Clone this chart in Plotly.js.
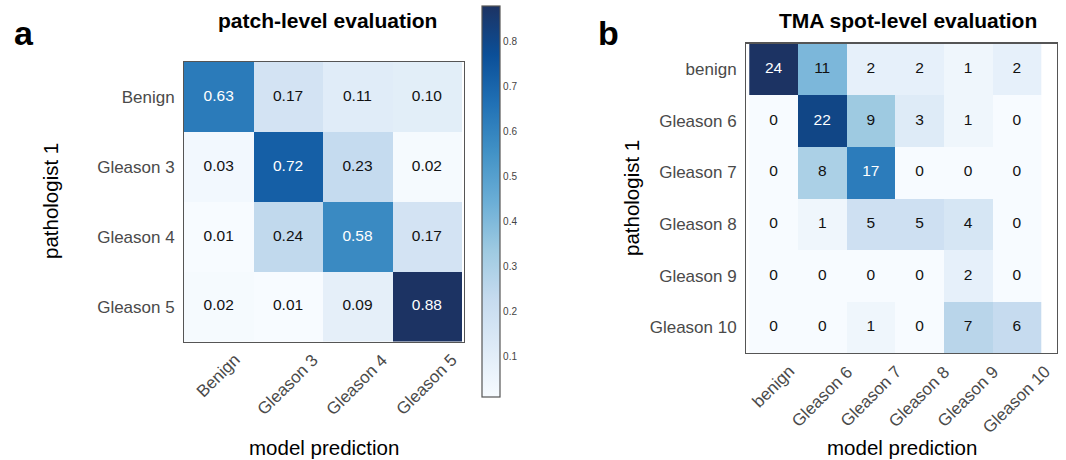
<!DOCTYPE html>
<html><head><meta charset="utf-8">
<script src="https://cdn.plot.ly/plotly-3.0.1.min.js"></script>
<style>html,body{margin:0;padding:0;background:#fff}#chart{width:1066px;height:460px}</style>
</head><body><div id="chart"></div>
<script>
var patchLabels = ['Benign', 'Gleason 3', 'Gleason 4', 'Gleason 5'];
var patchValues = [
  [0.63, 0.17, 0.11, 0.10],
  [0.03, 0.72, 0.23, 0.02],
  [0.01, 0.24, 0.58, 0.17],
  [0.02, 0.01, 0.09, 0.88]
];
var tmaLabels = ['benign', 'Gleason 6', 'Gleason 7', 'Gleason 8', 'Gleason 9', 'Gleason 10'];
var tmaValues = [
  [24, 11, 2, 2, 1, 2],
  [0, 22, 9, 3, 1, 0],
  [0, 8, 17, 0, 0, 0],
  [0, 1, 5, 5, 4, 0],
  [0, 0, 0, 0, 2, 0],
  [0, 0, 1, 0, 7, 6]
];
var colorbarTicks = [0.1, 0.2, 0.3, 0.4, 0.5, 0.6, 0.7, 0.8];

var blues = [
  [0, '#f7fbff'], [0.125, '#deebf7'], [0.25, '#c6dbef'], [0.375, '#9ecae1'],
  [0.5, '#6baed6'], [0.625, '#4292c6'], [0.75, '#2171b5'], [0.875, '#0b4f98'], [1, '#1c3363']
];
var FONT = 'Liberation Sans, Arial, Helvetica, sans-serif';
var TICKCOLOR = '#4a4a4a';

function textTrace(labels, values, fmt, xa, ya) {
  var all = [].concat.apply([], values);
  var mx = Math.max.apply(null, all);
  var xs = [], ys = [], ts = [], cs = [];
  values.forEach(function (row, i) {
    row.forEach(function (v, j) {
      xs.push(labels[j]); ys.push(labels[i]); ts.push(fmt(v));
      cs.push(v > mx / 2 ? '#ffffff' : '#111111');
    });
  });
  return {type: 'scatter', mode: 'text', x: xs, y: ys, text: ts, xaxis: xa, yaxis: ya,
    textfont: {family: FONT, size: 15.5, color: cs}, hoverinfo: 'skip', showlegend: false};
}

var allPatch = [].concat.apply([], patchValues);
var traces = [
  {type: 'heatmap', x: patchLabels, y: patchLabels, z: patchValues, xaxis: 'x', yaxis: 'y',
   colorscale: blues, zmin: Math.min.apply(null, allPatch), zmax: Math.max.apply(null, allPatch),
   colorbar: {x: 482/1066, xanchor: 'left', y: 1 - 201.5/460, yanchor: 'middle',
     len: 391, lenmode: 'pixels', thickness: 18, thicknessmode: 'pixels',
     outlinecolor: '#555', outlinewidth: 1.2, tickvals: colorbarTicks, ticks: '',
     tickfont: {family: FONT, size: 10, color: '#444'}, xpad: 0, ypad: 0}},
  textTrace(patchLabels, patchValues, function (v) { return v.toFixed(2); }, 'x', 'y'),
  {type: 'heatmap', x: tmaLabels, y: tmaLabels, z: tmaValues, xaxis: 'x2', yaxis: 'y2',
   colorscale: blues, zmin: 0, zmax: 24, showscale: false},
  textTrace(tmaLabels, tmaValues, function (v) { return String(v); }, 'x2', 'y2')
];

function ax(extra) {
  var a = {showgrid: false, zeroline: false, showline: true, mirror: true, linecolor: '#555',
    linewidth: 1.2, ticks: '', tickfont: {family: FONT, size: 17, color: TICKCOLOR}, fixedrange: true};
  for (var k in extra) a[k] = extra[k];
  return a;
}

var L_BOTTOM = 341.5, R_BOTTOM = 353;
var annotations = [
  {text: '<b>a</b>', x: 12/1066, y: 1 - 33/460, xref: 'paper', yref: 'paper', xanchor: 'left', yanchor: 'middle', showarrow: false, font: {family: FONT, size: 34, color: '#000'}},
  {text: '<b>b</b>', x: 596/1066, y: 1 - 33/460, xref: 'paper', yref: 'paper', xanchor: 'left', yanchor: 'middle', showarrow: false, font: {family: FONT, size: 34, color: '#000'}},
  {text: '<b>patch-level evaluation</b>', x: 327/1066, y: 1 - 21/460, xref: 'paper', yref: 'paper', xanchor: 'center', yanchor: 'middle', showarrow: false, font: {family: FONT, size: 21, color: '#000'}},
  {text: '<b>TMA spot-level evaluation</b>', x: 908/1066, y: 1 - 21/460, xref: 'paper', yref: 'paper', xanchor: 'center', yanchor: 'middle', showarrow: false, font: {family: FONT, size: 21, color: '#000'}},
  {text: 'pathologist 1', x: 50/1066, y: 1 - 201/460, xref: 'paper', yref: 'paper', xanchor: 'center', yanchor: 'middle', textangle: -90, showarrow: false, font: {family: FONT, size: 20.5, color: '#000'}},
  {text: 'pathologist 1', x: 632/1066, y: 1 - 198/460, xref: 'paper', yref: 'paper', xanchor: 'center', yanchor: 'middle', textangle: -90, showarrow: false, font: {family: FONT, size: 20.5, color: '#000'}},
  {text: 'model prediction', x: 324/1066, y: 1 - 447/460, xref: 'paper', yref: 'paper', xanchor: 'center', yanchor: 'middle', showarrow: false, font: {family: FONT, size: 20.5, color: '#000'}},
  {text: 'model prediction', x: 902/1066, y: 1 - 447/460, xref: 'paper', yref: 'paper', xanchor: 'center', yanchor: 'middle', showarrow: false, font: {family: FONT, size: 20.5, color: '#000'}}
];
patchLabels.forEach(function (lab) {
  annotations.push({text: lab, x: lab, xref: 'x', y: 1 - (L_BOTTOM + 6)/460, yref: 'paper',
    xanchor: 'center', yanchor: 'top', textangle: -45, showarrow: false,
    font: {family: FONT, size: 17, color: TICKCOLOR}});
});
tmaLabels.forEach(function (lab) {
  annotations.push({text: lab, x: lab, xref: 'x2', y: 1 - (R_BOTTOM + 6)/460, yref: 'paper',
    xanchor: 'center', yanchor: 'top', textangle: -45, showarrow: false,
    font: {family: FONT, size: 17, color: TICKCOLOR}});
});

var layout = {
  width: 1066, height: 460, margin: {l: 0, r: 0, t: 0, b: 0},
  paper_bgcolor: '#fff', plot_bgcolor: '#fff', showlegend: false,
  xaxis: ax({domain: [184/1066, 464/1066], anchor: 'y', type: 'category', showticklabels: false}),
  yaxis: ax({domain: [1 - L_BOTTOM/460, 1 - 62/460], anchor: 'x', autorange: 'reversed', type: 'category', ticksuffix: ' '}),
  xaxis2: ax({domain: [746/1066, 1057/1066], anchor: 'y2', type: 'category', showticklabels: false}),
  yaxis2: ax({domain: [1 - R_BOTTOM/460, 1 - 43.5/460], anchor: 'x2', autorange: 'reversed', type: 'category', ticksuffix: ' '}),
  annotations: annotations
};
Plotly.newPlot('chart', traces, layout, {displayModeBar: false, staticPlot: true});
</script></body></html>
